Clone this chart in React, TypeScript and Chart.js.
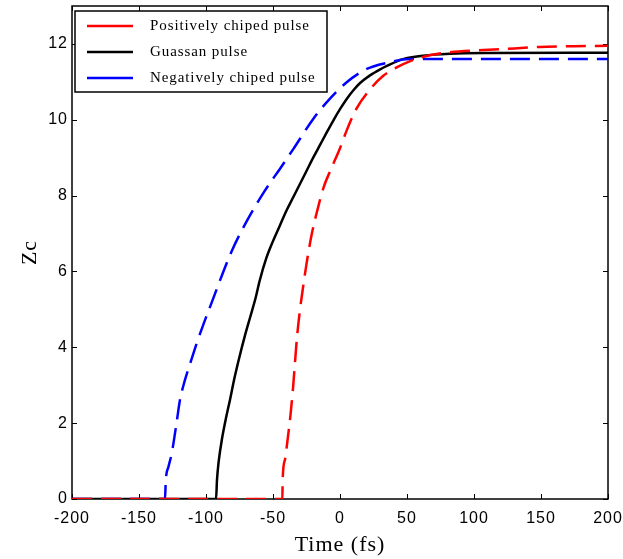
import React, { useEffect, useRef } from "react";
import { Chart, registerables } from "chart.js";

Chart.register(...registerables);

// ---- Data ----
const seriesLabels = ["Positively chiped pulse", "Guassan pulse", "Negatively chiped pulse"];

const positiveTime = [-200, -43, -42.8, -41, -39, -37, -35, -33.6, -32, -30, -27.5, -25, -21, -17, -12.4, -6.2, 0, 5, 12.4, 22.4, 32.3, 42.3, 52, 67, 82, 107, 130, 149, 175, 200];
const positiveZc = [0, 0, 0.5, 1.05, 1.6, 2.2, 2.95, 3.6, 4.3, 4.95, 5.6, 6.2, 7.0, 7.6, 8.2, 8.74, 9.25, 9.72, 10.3, 10.8, 11.16, 11.38, 11.54, 11.7, 11.78, 11.84, 11.88, 11.92, 11.94, 11.95];

const gaussTime = [-200, -92.5, -91.8, -90.5, -88, -85, -82, -79, -75, -71, -67, -63, -60, -55, -50, -45, -40, -35, -30, -25, -20, -15, -10, -5, 0, 5, 10, 15, 22.4, 30, 35, 47, 62, 82, 110, 200];
const gaussZc = [0, 0, 0.5, 1.0, 1.6, 2.15, 2.63, 3.15, 3.75, 4.3, 4.8, 5.3, 5.75, 6.35, 6.8, 7.2, 7.6, 7.95, 8.3, 8.65, 9.0, 9.33, 9.66, 9.98, 10.28, 10.55, 10.78, 10.97, 11.17, 11.33, 11.42, 11.6, 11.69, 11.74, 11.76, 11.77];

const negativeTime = [-200, -130.6, -130, -128, -125.6, -122, -119.5, -116, -112, -107, -102, -95, -87, -80, -70, -57, -44, -35, -20, -10, 5, 20, 35, 52, 100, 200];
const negativeZc = [0, 0, 0.5, 0.85, 1.2, 2.0, 2.6, 3.1, 3.55, 4.1, 4.6, 5.25, 6.0, 6.6, 7.3, 8.08, 8.75, 9.22, 10.02, 10.46, 10.99, 11.34, 11.5, 11.6, 11.6, 11.6];

const xTickValues = [-200, -150, -100, -50, 0, 50, 100, 150, 200];
const yTickValues = [0, 2, 4, 6, 8, 10, 12];

const toPoints = (t: number[], z: number[]) => t.map((x, i) => ({ x, y: z[i] }));

const SANS = '"Liberation Sans Narrow", "Arial Narrow", "Liberation Sans", Arial, sans-serif';
const SERIF = '"Liberation Serif", "Times New Roman", serif';

const spacingPlugin = {
  id: "spacing",
  beforeDraw(chart: any) {
    chart.ctx.letterSpacing = "1px";
  },
};

const framePlugin = {
  id: "frame",
  beforeDatasetsDraw(chart: any) {
    const { ctx, chartArea: a, scales } = chart;
    const x = scales.x;
    const y = scales.y;
    ctx.save();
    ctx.strokeStyle = "#000";
    ctx.lineWidth = 1.5;
    ctx.strokeRect(a.left, a.top, a.right - a.left, a.bottom - a.top);
    ctx.lineWidth = 1;
    const L = 5;
    ctx.beginPath();
    x.ticks.forEach((t: any) => {
      const px = Math.round(x.getPixelForValue(t.value)) + 0.5;
      ctx.moveTo(px, a.bottom);
      ctx.lineTo(px, a.bottom - L);
      ctx.moveTo(px, a.top);
      ctx.lineTo(px, a.top + L);
    });
    y.ticks.forEach((t: any) => {
      const py = Math.round(y.getPixelForValue(t.value)) + 0.5;
      ctx.moveTo(a.left, py);
      ctx.lineTo(a.left + L, py);
      ctx.moveTo(a.right, py);
      ctx.lineTo(a.right - L, py);
    });
    ctx.stroke();
    ctx.restore();
  },
};

const legendPlugin = {
  id: "boxLegend",
  afterDatasetsDraw(chart: any) {
    const { ctx, chartArea: a } = chart;
    const left = a.left + 3;
    const top = a.top + 5;
    const w = 252;
    const h = 81;
    ctx.save();
    ctx.fillStyle = "#fff";
    ctx.fillRect(left, top, w, h);
    ctx.strokeStyle = "#000";
    ctx.lineWidth = 1.5;
    ctx.strokeRect(left, top, w, h);
    ctx.font = `15px ${SERIF}`;
    ctx.letterSpacing = "0.9px";
    ctx.textBaseline = "middle";
    ctx.textAlign = "left";
    chart.data.datasets.forEach((ds: any, i: number) => {
      const rowY = top + 15 + i * 26;
      ctx.beginPath();
      ctx.strokeStyle = ds.borderColor;
      ctx.lineWidth = 2.5;
      ctx.setLineDash([]);
      ctx.moveTo(left + 12, rowY);
      ctx.lineTo(left + 58, rowY);
      ctx.stroke();
      ctx.fillStyle = "#000";
      ctx.fillText(ds.label, left + 75, rowY);
    });
    ctx.restore();
  },
};

export default function App() {
  const ref = useRef<HTMLCanvasElement | null>(null);

  useEffect(() => {
    if (!ref.current) return;
    const chart = new Chart(ref.current, {
      type: "line",
      data: {
        datasets: [
          {
            label: seriesLabels[0],
            data: toPoints(positiveTime, positiveZc),
            borderColor: "#ff0000",
            borderWidth: 2.5,
            borderDash: [20, 9],
            pointRadius: 0,
            cubicInterpolationMode: "monotone",
            order: 1,
          },
          {
            label: seriesLabels[1],
            data: toPoints(gaussTime, gaussZc),
            borderColor: "#000000",
            borderWidth: 2.5,
            pointRadius: 0,
            cubicInterpolationMode: "monotone",
            order: 3,
          },
          {
            label: seriesLabels[2],
            data: toPoints(negativeTime, negativeZc),
            borderColor: "#0000ff",
            borderWidth: 2.5,
            borderDash: [20, 9],
            pointRadius: 0,
            cubicInterpolationMode: "monotone",
            order: 2,
          },
        ],
      },
      options: {
        animation: false,
        responsive: false,
        devicePixelRatio: 1,
        layout: { padding: { top: 6, right: 15, left: 0, bottom: 0 } },
        plugins: { legend: { display: false }, tooltip: { enabled: false } },
        scales: {
          x: {
            type: "linear",
            min: -200,
            max: 200,
            grid: { display: false, drawTicks: false, tickLength: 0 },
            border: { display: false },
            afterBuildTicks: (s: any) => {
              s.ticks = xTickValues.map((v) => ({ value: v }));
            },
            afterFit: (s: any) => {
              s.height = 60;
              s.paddingLeft = 0;
              s.paddingRight = 0;
            },
            ticks: {
              color: "#000",
              padding: 10,
              maxRotation: 0,
              font: { family: SANS, size: 16 },
            },
            title: {
              display: true,
              text: "Time (fs)",
              color: "#000",
              font: { family: SERIF, size: 22, lineHeight: 1.2 },
              padding: { top: 0, bottom: 1 },
            },
          },
          y: {
            type: "linear",
            min: 0,
            max: 13,
            grid: { display: false, drawTicks: false, tickLength: 0 },
            border: { display: false },
            afterBuildTicks: (s: any) => {
              s.ticks = yTickValues.map((v) => ({ value: v }));
            },
            afterFit: (s: any) => {
              s.width = 72;
              s.paddingTop = 0;
              s.paddingBottom = 0;
            },
            ticks: {
              color: "#000",
              padding: 4,
              font: { family: SANS, size: 16 },
            },
            title: {
              display: true,
              text: "Zc",
              color: "#000",
              font: { family: SERIF, size: 22, lineHeight: 1.2 },
              padding: { top: 17, bottom: 0 },
            },
          },
        },
      },
      plugins: [spacingPlugin, framePlugin, legendPlugin],
    } as any);
    return () => chart.destroy();
  }, []);

  return (
    <canvas
      ref={ref}
      width={623}
      height={559}
      style={{ position: "absolute", left: 0, top: 0, display: "block" }}
    />
  );
}
